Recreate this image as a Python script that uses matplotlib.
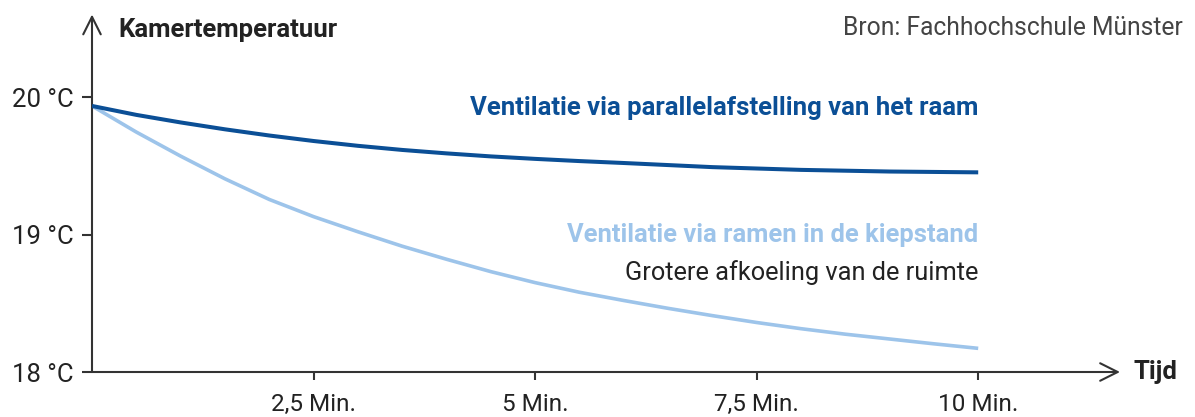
import matplotlib
matplotlib.use("Agg")
import matplotlib.pyplot as plt

# Room temperature (°C) sampled every half minute
minutes = [0, 0.5, 1, 1.5, 2, 2.5, 3, 3.5, 4, 4.5, 5,
           5.5, 6, 6.5, 7, 7.5, 8, 8.5, 9, 9.5, 10]
parallel = [19.935, 19.87, 19.815, 19.765, 19.72, 19.68, 19.645, 19.615, 19.59, 19.568, 19.55,
            19.534, 19.52, 19.505, 19.49, 19.48, 19.47, 19.464, 19.458, 19.455, 19.452]
tilted = [19.935, 19.745, 19.57, 19.405, 19.255, 19.13, 19.02, 18.915, 18.82, 18.73, 18.65,
          18.58, 18.52, 18.463, 18.41, 18.36, 18.315, 18.275, 18.24, 18.205, 18.172]

x_ticks = [2.5, 5, 7.5, 10]
x_labels = ["2,5 Min.", "5 Min.", "7,5 Min.", "10 Min."]
y_ticks = [18, 19, 20]
y_labels = ["18 °C", "19 °C", "20 °C"]

dark_blue = "#0b4f96"
light_blue = "#9dc4ea"
axis_col = "#333333"
text_col = "#222222"

plt.rcParams["font.family"] = ["Roboto", "DejaVu Sans"]

fig = plt.figure(figsize=(11.95, 4.17), dpi=100)
ax = fig.add_axes([92 / 1195, 45 / 417, 1028 / 1195, 357.5 / 417])
ax.set_xlim(0, 11.6)
ax.set_ylim(18, 20.6)

ax.plot(minutes, tilted, color=light_blue, lw=2.6, solid_capstyle="butt", zorder=3)
ax.plot(minutes, parallel, color=dark_blue, lw=2.9, solid_capstyle="butt", zorder=4)

for s in ax.spines.values():
    s.set_visible(False)

# axes drawn as arrows with open heads
arrow = dict(arrowstyle="->,head_length=0.9,head_width=0.45", color=axis_col, lw=1.5,
             shrinkA=0, shrinkB=0, mutation_scale=14)
ax.annotate("", xy=(1, 0), xytext=(0, 0), xycoords="axes fraction", arrowprops=arrow)
ax.annotate("", xy=(0, 1), xytext=(0, 0), xycoords="axes fraction", arrowprops=arrow)

ax.set_xticks(x_ticks)
ax.set_xticklabels(x_labels)
ax.set_yticks(y_ticks)
ax.set_yticklabels(y_labels)
ax.tick_params(axis="x", direction="out", length=6, width=1.5, color=axis_col,
               labelsize=17.5, labelcolor=text_col, pad=9)
ax.tick_params(axis="y", direction="out", length=7, width=1.5, color=axis_col,
               labelsize=18.5, labelcolor=text_col, pad=6)

fig.text(118 / 1195, 1 - 30 / 417, "Kamertemperatuur", fontsize=18.5, fontweight="bold",
         color=text_col, ha="left", va="center")
fig.text(1183 / 1195, 1 - 28 / 417, "Bron: Fachhochschule Münster", fontsize=17.7,
         color="#444444", ha="right", va="center")
fig.text(1133 / 1195, 1 - 372 / 417, "Tijd", fontsize=18.5, fontweight="bold",
         color=text_col, ha="left", va="center")

ax.text(10, 19.92, "Ventilatie via parallelafstelling van het raam", fontsize=18.5,
        fontweight="bold", color=dark_blue, ha="right", va="center")
ax.text(10, 19.0, "Ventilatie via ramen in de kiepstand", fontsize=18.4,
        fontweight="bold", color=light_blue, ha="right", va="center")
ax.text(10, 18.725, "Grotere afkoeling van de ruimte", fontsize=18.3,
        color=text_col, ha="right", va="center")

fig.savefig("out.png", dpi=100, facecolor="white")
